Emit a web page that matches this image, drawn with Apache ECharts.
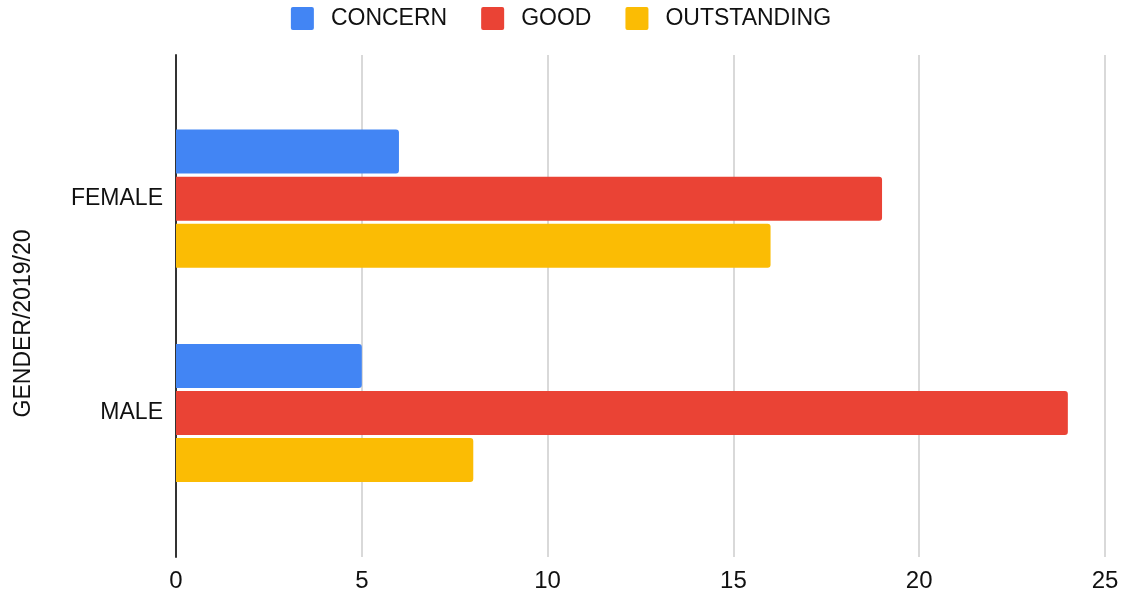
<!DOCTYPE html>
<html>
<head>
<meta charset="utf-8">
<script src="https://cdn.jsdelivr.net/npm/echarts@6/dist/echarts.min.js"></script>
<style>
html,body{margin:0;padding:0;background:#fff;}
#chart{width:1122px;height:593px;}
</style>
</head>
<body>
<div id="chart"></div>
<script>
const categories = ['MALE', 'FEMALE'];
const seriesNames = ['CONCERN', 'GOOD', 'OUTSTANDING'];
const concern = [5, 6];
const good = [24, 19];
const outstanding = [8, 16];
const xTicks = [0, 5, 10, 15, 20, 25];
const axisTitle = 'GENDER/2019/20';

const colors = ['#4285F4', '#EA4335', '#FBBC04'];
const values = [concern, good, outstanding];
const font = '"Liberation Sans", Arial, Helvetica, sans-serif';
const textColor = '#111';
const iconPath = 'path://M2,0H21A2,2,0,0,1,23,2V21A2,2,0,0,1,21,23H2A2,2,0,0,1,0,21V2A2,2,0,0,1,2,0Z';

const chart = echarts.init(document.getElementById('chart'));
chart.setOption({
  animation: false,
  textStyle: { fontFamily: font },
  legend: {
    top: 7,
    left: 'center',
    padding: 0,
    itemWidth: 23,
    itemHeight: 23,
    itemGap: 34,
    icon: iconPath,
    textStyle: { fontSize: 23, color: textColor, fontFamily: font, padding: [0, 0, 0, 12] },
    data: seriesNames
  },
  grid: [
    { left: 176, right: 17, top: 55, bottom: 36 },
    { left: 176, right: 17, top: 91.5, bottom: 72.8 }
  ],
  xAxis: [
    {
      gridIndex: 0, type: 'value', min: xTicks[0], max: xTicks[xTicks.length - 1], interval: 5,
      axisLine: { show: false }, axisTick: { show: false },
      axisLabel: { fontSize: 24, color: textColor, margin: 12, fontFamily: font },
      splitLine: { show: true, lineStyle: { color: '#cccccc', width: 1.5 } }
    },
    {
      gridIndex: 1, type: 'value', min: xTicks[0], max: xTicks[xTicks.length - 1], interval: 5,
      show: false, splitLine: { show: false }
    }
  ],
  yAxis: [
    {
      gridIndex: 0, type: 'value', min: 0, max: 1,
      axisLine: { show: true, onZero: false, lineStyle: { color: '#333', width: 2 } },
      axisTick: { show: false }, axisLabel: { show: false }, splitLine: { show: false }
    },
    {
      gridIndex: 1, type: 'category', data: categories,
      axisLine: { show: false }, axisTick: { show: false },
      axisLabel: { fontSize: 23, color: textColor, margin: 13, fontFamily: font },
      splitLine: { show: false }
    }
  ],
  graphic: [
    {
      type: 'text', x: 23.5, y: 323.5, rotation: Math.PI / 2,
      style: { text: axisTitle, fontSize: 23, fill: textColor, fontFamily: font, textAlign: 'center', textVerticalAlign: 'middle' }
    }
  ],
  series: seriesNames.map((name, i) => ({
    name: name,
    type: 'bar',
    xAxisIndex: 1,
    yAxisIndex: 1,
    data: values[i],
    barWidth: 44,
    barGap: '7%',
    itemStyle: { color: colors[i], borderRadius: [0, 3, 3, 0] }
  }))
});
</script>
</body>
</html>
